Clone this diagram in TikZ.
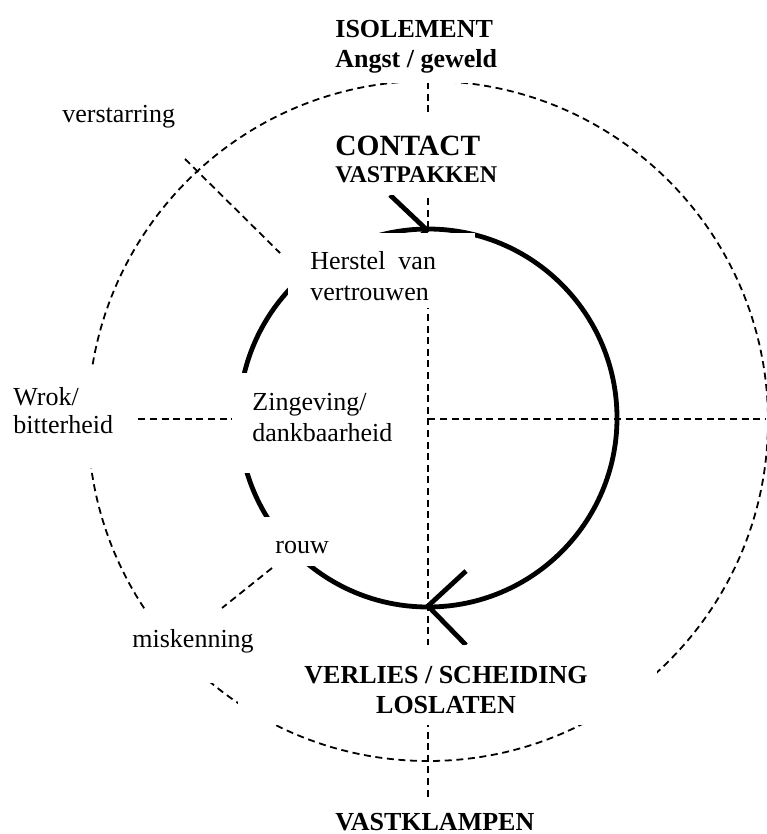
\documentclass[tikz,border=0pt]{standalone}
\usepackage{fontspec}
\setmainfont{Liberation Serif}

\begin{document}
\begin{tikzpicture}[x=0.5pt, y=-0.5pt,
    stippel/.style={line width=0.9pt, dash pattern=on 3.5pt off 2.3pt},
    lijn/.style={line width=2.4pt},
    wit/.style={fill=white},
    tekst/.style={inner sep=0pt, anchor=base west, align=left, font=\fontsize{13}{15.5}\selectfont},
    vet/.style={tekst, font=\fontsize{13}{15}\selectfont\bfseries}]
    \useasboundingbox (0,0) rectangle (766,834);

    % Cirkels
    \draw[stippel] (428,421) circle[radius=340];
    \draw[lijn] (428,418) circle[radius=189];

    % Assen en diagonalen
    \draw[stippel] (428,82) -- (428,797);
    \draw[stippel] (92,419) -- (766,419);
    \draw[stippel] (185,159) -- (280,253);
    \draw[stippel] (272,568) -- (222,608);

    % Pijlpunten
    \draw[lijn] (390,195) -- (427,230) -- (390,265);
    \draw[lijn] (466,571) -- (428,606) -- (466,645);

    % Witte tekstvakken
    \fill[wit] (330,0) rectangle (505,83.5);
    \fill[wit] (330,116) rectangle (505,195);
    \fill[wit] (288,233) rectangle (475,308);
    \fill[wit] (0,366) rectangle (137,468);
    \fill[wit] (232,373) rectangle (426.5,473);
    \fill[wit] (262,517) rectangle (318,566);
    \fill[wit] (120,611) rectangle (236,683);
    \fill[wit] (238,645) rectangle (657,725);

    % Teksten (bij meerdere regels: basislijn van de laatste regel)
    \node[vet] (isol) at (335,68) {ISOLEMENT\\Angst / geweld};
    \node[vet, font=\fontsize{14.7}{16}\selectfont\bfseries] (contact) at (335,156) {CONTACT};
    \node[vet, font=\fontsize{12}{14}\selectfont\bfseries] (vastpak) at (335,183) {VASTPAKKEN};
    \node[tekst] (verst) at (62,123) {verstarring};
    \node[tekst] (herstel) at (310,300) {Herstel\ \ van\\vertrouwen};
    \node[tekst, font=\fontsize{13}{14}\selectfont] (wrok) at (13,433) {Wrok/\\bitterheid};
    \node[tekst] (zin) at (252,441) {Zingeving/\\dankbaarheid};
    \node[tekst] (rouw) at (275,553) {rouw};
    \node[tekst] (misk) at (132,647) {miskenning};
    \node[vet, anchor=base, align=center] (verlies) at (446,713) {VERLIES / SCHEIDING\\LOSLATEN};
    \node[vet] (vastkl) at (335,830) {VASTKLAMPEN};
\end{tikzpicture}
\end{document}
